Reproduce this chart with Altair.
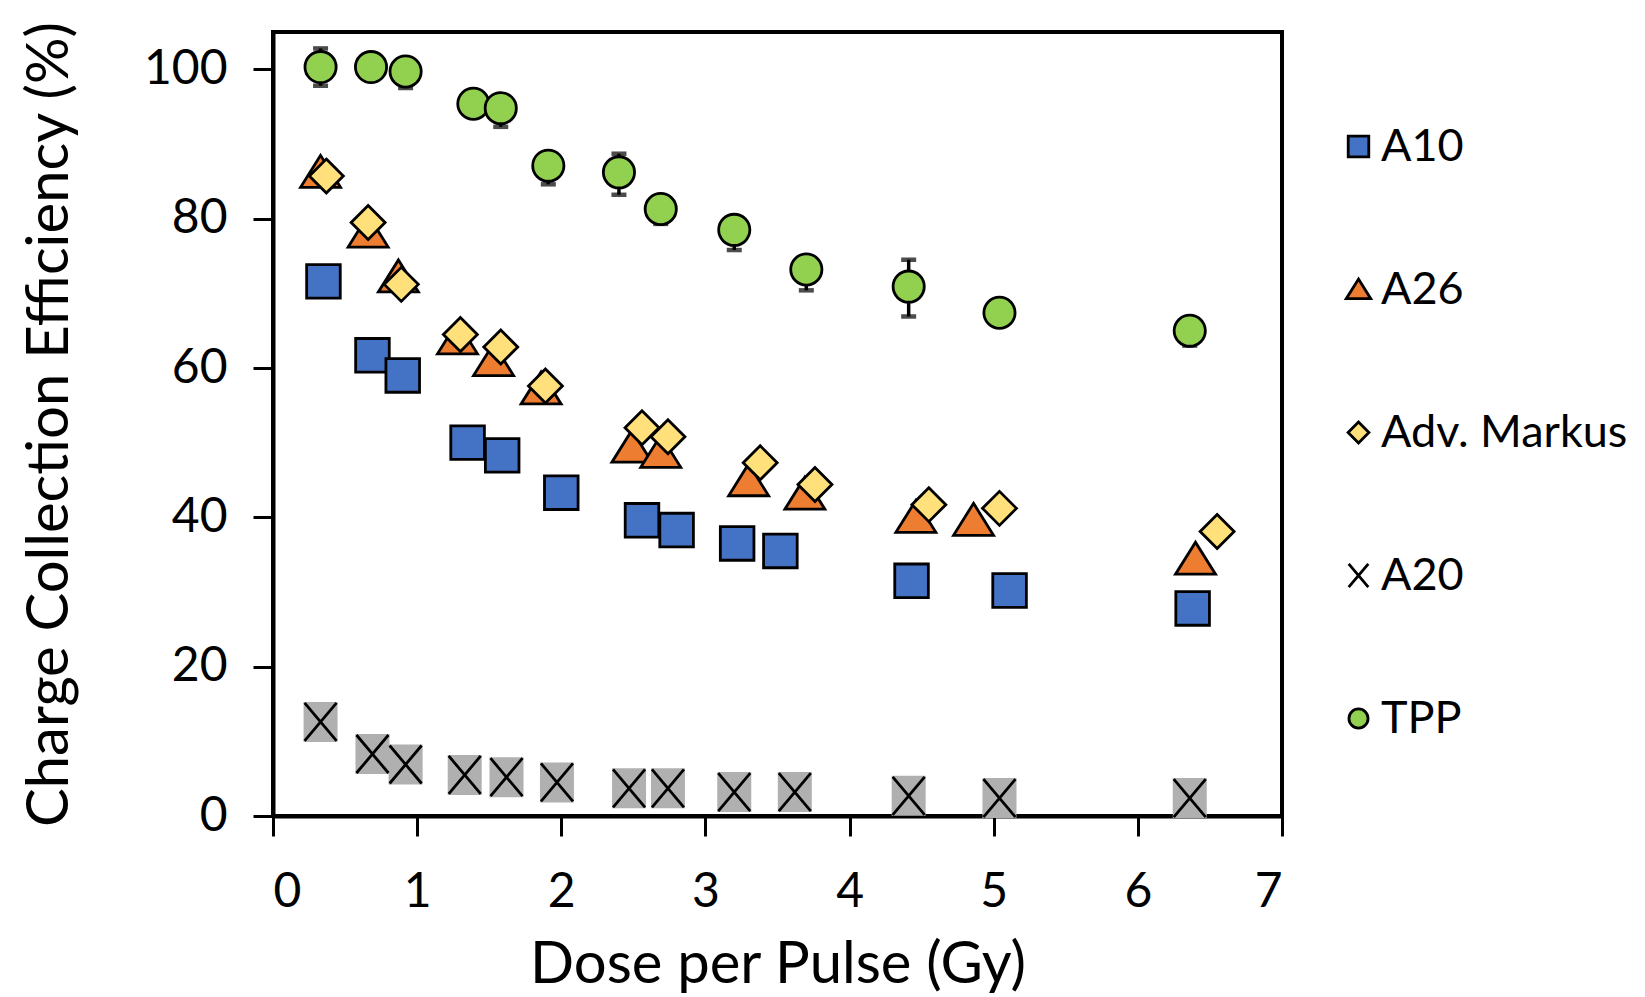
import altair as alt
import pandas as pd

series_names = ["A10", "A26", "Adv. Markus", "A20", "TPP"]
series_colors = ["#4472C4", "#ED7D31", "#FFE07A", "#A6A6A6", "#92D050"]
series_outline = ["black", "black", "black", "black", "black"]

a10_dose = [0.35, 0.69, 0.90, 1.35, 1.59, 2.00, 2.56, 2.80, 3.22, 3.52, 4.43, 5.11, 6.38]
a10_cce = [71.6, 61.7, 59.0, 50.0, 48.3, 43.3, 39.6, 38.3, 36.5, 35.5, 31.5, 30.2, 27.8]

a26_dose = [0.33, 0.66, 0.87, 1.28, 1.53, 1.86, 2.49, 2.69, 3.30, 3.69, 4.46, 4.86, 6.40]
a26_cce = [86.2, 78.2, 72.2, 63.9, 61.0, 57.2, 49.4, 48.7, 44.9, 43.1, 40.0, 39.6, 34.4]

markus_dose = [0.37, 0.66, 0.89, 1.30, 1.58, 1.89, 2.56, 2.74, 3.38, 3.76, 4.55, 5.04, 6.55]
markus_cce = [85.7, 79.5, 71.2, 64.5, 62.8, 57.6, 52.0, 50.8, 47.3, 44.4, 41.7, 41.2, 38.1]

a20_dose = [0.33, 0.69, 0.92, 1.33, 1.62, 1.97, 2.47, 2.74, 3.20, 3.62, 4.41, 5.04, 6.36]
a20_cce = [12.6, 8.3, 6.9, 5.5, 5.2, 4.5, 3.7, 3.7, 3.2, 3.2, 2.7, 2.4, 2.4]

tpp_dose = [0.33, 0.68, 0.92, 1.39, 1.58, 1.91, 2.40, 2.69, 3.20, 3.70, 4.41, 5.04, 6.36]
tpp_cce = [100.3, 100.3, 99.7, 95.4, 94.8, 87.1, 86.2, 81.3, 78.5, 73.2, 70.9, 67.4, 65.0]
tpp_err_low = [2.5, 1.0, 2.2, 1.0, 2.5, 2.5, 3.0, 2.0, 2.7, 2.8, 4.0, 1.0, 2.0]
tpp_err_high = [2.5, 1.0, 1.0, 1.0, 1.0, 1.0, 2.5, 1.0, 1.0, 1.0, 3.6, 1.0, 1.0]

x_ticks = [0, 1, 2, 3, 4, 5, 6, 7]
y_ticks = [0, 20, 40, 60, 80, 100]

# marker outlines (unit box -1..1)
shape_paths = [
    "M-0.84,-0.84H0.84V0.84H-0.84Z",
    "M0,-0.85L1,0.75L-1,0.75Z",
    "M0,-0.85L0.85,0L0,0.85L-0.85,0Z",
    "M-0.8,-0.95L0.8,0.95M0.8,-0.95L-0.8,0.95",
    "M0.78,0A0.78,0.78,0,1,1,-0.78,0A0.78,0.78,0,1,1,0.78,0Z",
]
stroke_widths = [2.8, 2.8, 2.8, 3.6, 2.8]
grey_box_path = "M-0.85,-1H0.85V1H-0.85Z"

rows = []
for name, xs, ys in [
    ("A10", a10_dose, a10_cce),
    ("A26", a26_dose, a26_cce),
    ("Adv. Markus", markus_dose, markus_cce),
    ("A20", a20_dose, a20_cce),
    ("TPP", tpp_dose, tpp_cce),
]:
    for xv, yv in zip(xs, ys):
        rows.append({"series": name, "dose": xv, "cce": yv})
df = pd.DataFrame(rows)

tpp_df = pd.DataFrame({
    "dose": tpp_dose,
    "cce": tpp_cce,
    "lo": [c - e for c, e in zip(tpp_cce, tpp_err_low)],
    "hi": [c + e for c, e in zip(tpp_cce, tpp_err_high)],
})

FONT = "Lato"

x_enc = alt.X("dose:Q", scale=alt.Scale(domain=[0, 7], nice=False, zero=False),
              axis=alt.Axis(values=x_ticks, title="Dose per Pulse (Gy)", format="d"))
y_enc = alt.Y("cce:Q", scale=alt.Scale(domain=[0, 105], nice=False),
              axis=alt.Axis(values=y_ticks, title="Charge Collection Efficiency (%)", format="d"))

legend = alt.Legend(title=None, orient="none", legendX=1063, legendY=92,
                    symbolSize=600, symbolStrokeColor="black", symbolStrokeWidth=2.2,
                    labelFontSize=45, labelFont=FONT, labelColor="black", labelLimit=500,
                    rowPadding=97, labelOffset=0, padding=0)

err_rule = alt.Chart(tpp_df).mark_rule(color="black", strokeWidth=3.5).encode(
    x=x_enc, y=alt.Y("lo:Q"), y2="hi:Q")

err_caps = alt.Chart(tpp_df).transform_fold(["lo", "hi"], as_=["end", "val"]).mark_tick(
    orient="horizontal", size=15, thickness=4.5, color="black").encode(
    x=alt.X("dose:Q"), y=alt.Y("val:Q"))

grey_boxes = alt.Chart(df).transform_filter(alt.datum.series == "A20").mark_point(
    shape=grey_box_path, filled=True, fill="#B0B0B0", strokeWidth=0, size=1600, opacity=1
).encode(x=x_enc, y=y_enc)

points = alt.Chart(df).mark_point(
    filled=True, size=1600, opacity=1
).encode(
    x=x_enc,
    y=y_enc,
    shape=alt.Shape("series:N", scale=alt.Scale(domain=series_names, range=shape_paths), legend=legend),
    fill=alt.Fill("series:N", scale=alt.Scale(domain=series_names, range=series_colors), legend=legend),
    stroke=alt.Stroke("series:N", scale=alt.Scale(domain=series_names, range=series_outline), legend=legend),
    strokeWidth=alt.StrokeWidth("series:N", scale=alt.Scale(domain=series_names, range=stroke_widths), legend=None),
)

chart = alt.layer(err_rule, err_caps, grey_boxes, points).properties(
    width=1009, height=784,
    padding={"left": 13, "top": 12, "right": 5, "bottom": 5},
).configure_view(
    stroke="black", strokeWidth=4
).configure_axis(
    grid=False,
    domainColor="black", domainWidth=4,
    tickColor="black", tickWidth=3, tickSize=20,
    labelFont=FONT, labelFontSize=48, labelColor="black",
    titleFont=FONT, titleFontSize=58, titleFontWeight="normal", titleColor="black",
).configure_axisY(
    labelPadding=26, titlePadding=64,
).configure_axisX(
    labelPadding=32, titlePadding=20,
)

chart.save("out.html", embed_options={"renderer": "svg", "actions": False})
